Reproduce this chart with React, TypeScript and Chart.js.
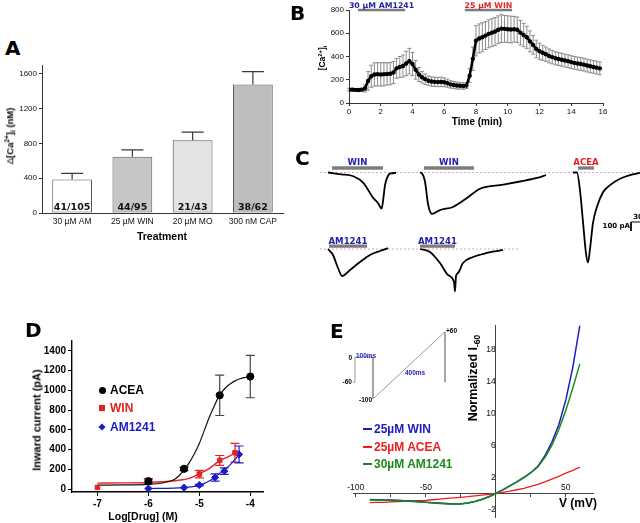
import React, { useEffect, useRef } from "react";
import { Chart, registerables } from "chart.js";

Chart.register(...registerables);

const SANS = "'Liberation Sans', Arial, Helvetica, sans-serif";
const VERD = "'DejaVu Sans', Verdana, sans-serif";

/* ---------------- Panel A ---------------- */
const A_CATEGORIES = ["30 µM AM", "25 µM WIN", "20 µM MO", "300 nM CAP"];
const A_VALUES = [385, 645, 835, 1475];
const A_ERRORS = [70, 80, 95, 150];
const A_COUNTS = ["41/105", "44/95", "21/43", "38/62"];
const A_Y_TICKS = [0, 400, 800, 1200, 1600];

/* ---------------- Panel B ---------------- */
const B_TIME = [0, 0.2, 0.4, 0.6, 0.8, 1.0, 1.2, 1.4, 1.6, 1.8, 2.0, 2.2, 2.4, 2.6, 2.8, 3.0, 3.2, 3.4, 3.6, 3.8,
  4.0, 4.2, 4.4, 4.6, 4.8, 5.0, 5.2, 5.4, 5.6, 5.8, 6.0, 6.2, 6.4, 6.6, 6.8, 7.0, 7.2, 7.4, 7.6, 7.8,
  8.0, 8.2, 8.4, 8.6, 8.8, 9.0, 9.2, 9.4, 9.6, 9.8, 10.0, 10.2, 10.4, 10.6, 10.8, 11.0, 11.2, 11.4, 11.6, 11.8,
  12.0, 12.2, 12.4, 12.6, 12.8, 13.0, 13.2, 13.4, 13.6, 13.8, 14.0, 14.2, 14.4, 14.6, 14.8, 15.0, 15.2, 15.4, 15.6, 15.8];
const B_MEAN = [115, 115, 113, 112, 115, 125, 190, 230, 245, 248, 245, 248, 250, 252, 262, 298, 310, 318, 340, 360,
  335, 285, 245, 222, 205, 192, 185, 182, 180, 182, 178, 170, 160, 155, 150, 148, 146, 150, 235, 380,
  535, 555, 565, 580, 595, 605, 615, 630, 640, 638, 635, 632, 635, 630, 605, 585, 565, 530, 500, 465,
  445, 432, 420, 405, 395, 385, 378, 372, 365, 360, 352, 345, 340, 336, 330, 322, 316, 310, 304, 298];
const B_SEM = [12, 12, 12, 12, 12, 30, 80, 95, 100, 100, 100, 100, 95, 95, 95, 85, 90, 95, 105, 110,
  100, 80, 60, 50, 45, 40, 40, 40, 40, 40, 38, 35, 32, 30, 30, 28, 28, 25, 60, 100,
  130, 125, 125, 120, 120, 120, 120, 120, 120, 115, 115, 115, 110, 110, 105, 100, 95, 90, 80, 75,
  70, 65, 62, 60, 58, 56, 55, 55, 55, 55, 55, 55, 55, 55, 55, 55, 55, 55, 55, 55];
const B_X_TICKS = [0, 2, 4, 6, 8, 10, 12, 14, 16];
const B_Y_TICKS = [0, 200, 400, 600, 800];
const B_DRUG_TEXT = ["30 µM AM1241", "25 µM WIN"];
const B_DRUG_START = [0.57, 7.3];
const B_DRUG_END = [3.53, 10.27];

/* ---------------- Panel C (traces: time in s from trace onset, current in pA) ---------------- */
const C_T1_TIME = [0, 40, 76, 106, 136, 150, 161, 166, 171, 181, 188, 204];
const C_T1_PA = [0, -20, -42, -115, -285, -340, -400, -290, -140, -30, -10, -5];
const C_T2_TIME = [0, 6, 15, 24, 36, 60, 99, 141, 180, 250, 300, 351, 378];
const C_T2_PA = [0, -10, -100, -350, -460, -417, -383, -283, -180, -135, -100, -61, -28];
const C_T3_TIME = [0, 12, 21, 30, 39, 45, 51, 60, 72, 90, 111, 141, 171, 201];
const C_T3_PA = [0, 0, -200, -550, -900, -1000, -850, -560, -380, -220, -140, -70, -30, -5];
const C_T4_TIME = [0, 15, 30, 42, 66, 96, 126, 156, 180];
const C_T4_PA = [0, -67, -211, -300, -233, -144, -67, -22, 10];
const C_T5_TIME = [0, 30, 60, 84, 102, 105, 108, 114, 129, 159, 201, 249];
const C_T5_PA = [0, -33, -156, -289, -367, -470, -300, -267, -156, -89, -44, -11];
const C_DRUG_TEXT = ["WIN", "WIN", "ACEA", "AM1241", "AM1241"];
const C_DRUG_ON = [12, 12, 15, 3, 0];
const C_DRUG_OFF = [165, 162, 63, 117, 105];

/* ---------------- Panel D ---------------- */
const D_X_ACEA = [-6, -5.3, -4.6, -4.0];
const D_ACEA = [80, 205, 950, 1140];
const D_ERR_ACEA = [25, 18, 205, 215];
const D_X_WIN = [-7, -6, -5, -4.6, -4.3];
const D_WIN = [17, 81, 152, 290, 368];
const D_ERR_WIN = [0, 22, 38, 50, 95];
const D_X_AM = [-6, -5.3, -5, -4.69, -4.51, -4.22];
const D_AM = [5, 14, 40, 117, 182, 351];
const D_ERR_AM = [0, 0, 8, 37, 33, 85];
const D_FIT_X_ACEA = [-7, -6.5, -6, -5.7, -5.5, -5.4, -5.3, -5.2, -5.1, -5.0, -4.9, -4.8, -4.7, -4.6, -4.5, -4.4, -4.3, -4.2, -4.1, -4.0];
const D_FIT_ACEA = [40, 42, 47, 64, 95, 135, 195, 265, 355, 462, 597, 732, 850, 951, 1019, 1063, 1096, 1117, 1130, 1140];
const D_FIT_X_WIN = [-7, -6.5, -6, -5.5, -5.2, -5.0, -4.8, -4.6, -4.4, -4.3];
const D_FIT_WIN = [60, 62, 67, 84, 108, 155, 210, 287, 337, 368];
const D_FIT_X_AM = [-6, -5.5, -5.3, -5.0, -4.9, -4.8, -4.7, -4.6, -4.5, -4.4, -4.3, -4.22];
const D_FIT_AM = [5, 9, 16, 37, 57, 84, 118, 159, 199, 243, 300, 351];
const D_X_TICKS = [-7, -6, -5, -4];
const D_Y_TICKS = [0, 200, 400, 600, 800, 1000, 1200, 1400];

/* ---------------- Panel E ---------------- */
const E_V = [-90, -85, -80, -75, -70, -65, -60, -55, -50, -45, -40, -35, -30, -25, -20, -15, -10, -5, 0, 5, 10, 15, 20, 25, 30, 35, 40, 45, 50, 55, 60];
const E_WIN = [-0.75, -0.78, -0.8, -0.82, -0.85, -0.9, -0.95, -1.0, -1.1, -1.15, -1.2, -1.25, -1.3, -1.28, -1.2, -1.0, -0.75, -0.4, 0, 0.45, 0.95, 1.45, 2.0, 2.6, 3.4, 4.7, 6.4, 8.6, 11.7, 15.8, 21.0];
const E_ACEA = [-1.15, -1.12, -1.1, -1.05, -1.0, -0.97, -0.95, -0.9, -0.85, -0.78, -0.7, -0.62, -0.55, -0.48, -0.4, -0.3, -0.2, -0.1, 0, 0.15, 0.3, 0.47, 0.65, 0.9, 1.15, 1.45, 1.8, 2.15, 2.55, 2.9, 3.3];
const E_AM1241 = [-0.8, -0.82, -0.85, -0.88, -0.9, -0.95, -1.0, -1.05, -1.1, -1.18, -1.25, -1.3, -1.32, -1.3, -1.2, -1.0, -0.75, -0.4, 0, 0.45, 0.95, 1.45, 2.0, 2.6, 3.3, 4.5, 6.0, 8.0, 10.4, 13.2, 16.2];
const E_X_TICKS = [-100, -75, -50, -25, 0, 25, 50];
const E_X_LABELS = [-100, -50, 50];
const E_Y_TICKS = [-2, 2, 6, 10, 14, 18];
const E_PROTO_TIME = [-11, 0, 0, 100, 100, 500, 500];
const E_PROTO_MV = [-60, -60, 0, 0, -100, 60, -60];

/* ---------------- colours ---------------- */
const BLUE = "#2323a8";
const RED = "#e42222";
const GREEN = "#1b8a1b";
const A_COLORS = ["#ffffff", "#c6c6c6", "#e3e3e3", "#bdbdbd"];

/* ---------------- helpers ---------------- */
const zip = (xs: number[], ys: number[]) => xs.map((x, i) => ({ x, y: ys[i] }));
const zero = (s: any) => { s.paddingLeft = 0; s.paddingRight = 0; s.paddingTop = 0; s.paddingBottom = 0; };
const fixW = (w: number) => (s: any) => { s.width = w; zero(s); };
const fixH = (h: number) => (s: any) => { s.height = h; zero(s); };
const setTicks = (vals: number[]) => (s: any) => { s.ticks = vals.map((v) => ({ value: v })); };

function drawErrors(chart: any, phase: string) {
  const ctx = chart.ctx;
  chart.data.datasets.forEach((ds: any, i: number) => {
    if (!ds.errors || (ds.errPhase || "before") !== phase) return;
    const meta = chart.getDatasetMeta(i);
    const ys = chart.scales[meta.yAxisID];
    ctx.save();
    ctx.strokeStyle = ds.errColor;
    ctx.lineWidth = ds.errWidth || 1;
    meta.data.forEach((el: any, j: number) => {
      const e = ds.errors[j];
      if (!e) return;
      const raw = ds.data[j];
      const v = typeof raw === "number" ? raw : raw.y;
      const x = el.x;
      const top = ys.getPixelForValue(v + e);
      const bot = ds.errUpOnly ? el.y : ys.getPixelForValue(v - e);
      const c = (ds.errCap || 6) / 2;
      ctx.beginPath();
      ctx.moveTo(x, bot);
      ctx.lineTo(x, top);
      ctx.moveTo(x - c, top);
      ctx.lineTo(x + c, top);
      if (!ds.errUpOnly) {
        ctx.moveTo(x - c, bot);
        ctx.lineTo(x + c, bot);
      }
      ctx.stroke();
    });
    ctx.restore();
  });
}

const errorBarPlugin = {
  id: "errorBars",
  beforeDatasetsDraw(chart: any) { drawErrors(chart, "before"); },
  afterDatasetsDraw(chart: any) { drawErrors(chart, "after"); },
};

const drugLabelPlugin = {
  id: "drugLabels",
  afterDatasetsDraw(chart: any) {
    const ctx = chart.ctx;
    chart.data.datasets.forEach((ds: any, i: number) => {
      if (!ds.drugText) return;
      const meta = chart.getDatasetMeta(i);
      const p0 = meta.data[0];
      const p1 = meta.data[meta.data.length - 1];
      ctx.save();
      ctx.font = ds.drugFont;
      ctx.fillStyle = ds.drugColor;
      ctx.textAlign = "center";
      ctx.textBaseline = "alphabetic";
      ctx.fillText(ds.drugText, (p0.x + p1.x) / 2, p0.y - ds.drugGap);
      ctx.restore();
    });
  },
};

const baseOptions = (padding: any) => ({
  animation: false,
  responsive: false,
  events: [],
  layout: { padding },
  plugins: { legend: { display: false }, tooltip: { enabled: false } },
});

/* ---------------- chart configs ---------------- */
const makeA = () => ({
  type: "bar",
  data: {
    labels: A_CATEGORIES,
    datasets: [{
      data: A_VALUES,
      backgroundColor: A_COLORS,
      borderColor: "#5a5a5a",
      borderWidth: 1,
      borderSkipped: false,
      barPercentage: 0.66,
      categoryPercentage: 1,
      errors: A_ERRORS,
      errUpOnly: true,
      errPhase: "after",
      errColor: "#3a3a3a",
      errWidth: 1.2,
      errCap: 22,
    }],
  },
  options: {
    ...baseOptions({ left: 0, right: 17, top: 5, bottom: 0 }),
    scales: {
      x: {
        grid: { display: false, drawTicks: false, tickLength: 0 },
        border: { color: "#333", width: 1 },
        ticks: { color: "#111", padding: 4, font: { family: SANS, size: 8.5 } },
        afterFit: fixH(47),
      },
      y: {
        min: 0, max: 1700,
        afterBuildTicks: setTicks(A_Y_TICKS),
        grid: { display: true, drawOnChartArea: false, tickLength: 3, color: "#333" },
        border: { color: "#333", width: 1 },
        ticks: { color: "#111", padding: 2, font: { family: SANS, size: 8 }, callback: (v: any) => String(v) },
        afterFit: fixW(42),
      },
    },
  },
  plugins: [errorBarPlugin, {
    id: "counts",
    afterDatasetsDraw(chart: any) {
      const ctx = chart.ctx;
      const meta = chart.getDatasetMeta(0);
      const y0 = chart.scales.y.getPixelForValue(0);
      ctx.save();
      ctx.font = `bold 9.5px ${VERD}`;
      ctx.fillStyle = "#111";
      ctx.textAlign = "center";
      meta.data.forEach((el: any, j: number) => ctx.fillText(A_COUNTS[j], el.x, y0 - 3));
      ctx.restore();
    },
  }],
});

const makeB = () => ({
  type: "line",
  data: {
    datasets: [
      {
        data: zip(B_TIME, B_MEAN),
        borderColor: "#000", backgroundColor: "#000", borderWidth: 2.5,
        pointRadius: 2.2, pointBorderWidth: 0,
        errors: B_SEM, errColor: "#8c8c8c", errWidth: 1, errCap: 4,
      },
      ...B_DRUG_TEXT.map((t, i) => ({
        data: [{ x: B_DRUG_START[i], y: 800 }, { x: B_DRUG_END[i], y: 800 }],
        borderColor: "#7a7a7a", borderWidth: 2.5, pointRadius: 0, clip: false,
        drugText: t, drugColor: i === 0 ? BLUE : RED, drugFont: `bold 7.8px ${VERD}`, drugGap: 2.5,
      })),
    ],
  },
  options: {
    ...baseOptions({ left: 0, right: 37, top: 10, bottom: 0 }),
    scales: {
      x: {
        type: "linear", min: 0, max: 16,
        afterBuildTicks: setTicks(B_X_TICKS),
        grid: { display: true, drawOnChartArea: false, tickLength: 3, color: "#333" },
        border: { color: "#333", width: 1 },
        ticks: { color: "#111", padding: 1, font: { family: SANS, size: 8 } },
        afterFit: fixH(37),
      },
      y: {
        min: 0, max: 800,
        afterBuildTicks: setTicks(B_Y_TICKS),
        grid: { display: true, drawOnChartArea: false, tickLength: 3, color: "#333" },
        border: { color: "#333", width: 1 },
        ticks: { color: "#111", padding: 2, font: { family: SANS, size: 8 } },
        afterFit: fixW(49),
      },
    },
  },
  plugins: [errorBarPlugin, drugLabelPlugin],
});

// layout of the trace panel (seconds / pA of the shared canvas)
const C_TRACE_START = [24, 300, 759, 24, 300];
const C_ROW_BASE = [0, 0, 0, -850, -850];
const C_BAR_LIFT = [50, 50, 50, 33, 33];

const makeC = () => {
  const traces = [
    [C_T1_TIME, C_T1_PA], [C_T2_TIME, C_T2_PA], [C_T3_TIME, C_T3_PA], [C_T4_TIME, C_T4_PA], [C_T5_TIME, C_T5_PA],
  ].map(([ts, vs], k) => ({
    data: ts.map((t, i) => ({ x: C_TRACE_START[k] + t, y: C_ROW_BASE[k] + vs[i] })),
    borderColor: "#000", borderWidth: 1.8, pointRadius: 0, cubicInterpolationMode: "monotone",
  }));
  const bars = C_DRUG_TEXT.map((t, k) => ({
    data: [
      { x: C_TRACE_START[k] + C_DRUG_ON[k], y: C_ROW_BASE[k] + C_BAR_LIFT[k] },
      { x: C_TRACE_START[k] + C_DRUG_OFF[k], y: C_ROW_BASE[k] + C_BAR_LIFT[k] },
    ],
    borderColor: "#7d7d7d", borderWidth: 3.3, pointRadius: 0,
    drugText: t, drugColor: t === "ACEA" ? RED : BLUE, drugFont: `bold 8.6px ${VERD}`, drugGap: 2.5,
  }));
  const scaleBar = {
    data: [{ x: 963, y: -550 }, { x: 933, y: -550 }, { x: 933, y: -650 }],
    borderColor: "#000", borderWidth: 1, pointRadius: 0, clip: false,
  };
  const baselines = [
    { data: [{ x: 0, y: 0 }, { x: 960, y: 0 }] },
    { data: [{ x: 0, y: -850 }, { x: 600, y: -850 }] },
  ].map((d) => ({ ...d, borderColor: "#d7a6cf", borderWidth: 1, borderDash: [2, 2], pointRadius: 0 }));
  return {
    type: "line",
    data: { datasets: [...traces, scaleBar, ...bars, ...baselines] },
    options: {
      ...baseOptions(0),
      scales: {
        x: { type: "linear", min: 0, max: 960, display: false },
        y: { min: -1416.7, max: 250, display: false },
      },
    },
    plugins: [drugLabelPlugin],
  };
};

const makeD = () => ({
  type: "line",
  data: {
    datasets: [
      {
        data: zip(D_X_ACEA, D_ACEA), showLine: false, pointStyle: "circle", pointRadius: 3.6,
        backgroundColor: "#000", borderColor: "#000",
        errors: D_ERR_ACEA, errColor: "#444", errWidth: 1.2, errCap: 9,
      },
      {
        data: zip(D_X_WIN, D_WIN), showLine: false, pointStyle: "rect", pointRadius: 3.2,
        backgroundColor: RED, borderColor: RED,
        errors: D_ERR_WIN, errColor: RED, errWidth: 1.2, errCap: 9,
      },
      {
        data: zip(D_X_AM, D_AM), showLine: false, pointStyle: "rectRot", pointRadius: 3.6,
        backgroundColor: "#1c1cc8", borderColor: "#1c1cc8",
        errors: D_ERR_AM, errColor: "#1c1cc8", errWidth: 1.2, errCap: 9,
      },
      { data: zip(D_FIT_X_ACEA, D_FIT_ACEA), borderColor: "#111", borderWidth: 1.2, pointRadius: 0, cubicInterpolationMode: "monotone" },
      { data: zip(D_FIT_X_WIN, D_FIT_WIN), borderColor: RED, borderWidth: 1.4, pointRadius: 0, cubicInterpolationMode: "monotone" },
      { data: zip(D_FIT_X_AM, D_FIT_AM), borderColor: "#1c1cc8", borderWidth: 1.2, pointRadius: 0, cubicInterpolationMode: "monotone" },
    ],
  },
  options: {
    ...baseOptions({ left: 0, right: 37, top: 41, bottom: 0 }),
    scales: {
      x: {
        type: "linear", min: -7.5, max: -3.75,
        afterBuildTicks: setTicks(D_X_TICKS),
        grid: { display: true, drawOnChartArea: false, tickLength: 4, color: "#000" },
        border: { color: "#000", width: 1.4 },
        ticks: { color: "#000", padding: 2, font: { family: SANS, size: 10, weight: "bold" } },
        afterFit: fixH(31),
      },
      y: {
        min: -30, max: 1500,
        afterBuildTicks: setTicks(D_Y_TICKS),
        grid: { display: true, drawOnChartArea: false, tickLength: 4, color: "#000" },
        border: { color: "#000", width: 1.4 },
        ticks: { color: "#000", padding: 2, font: { family: SANS, size: 10, weight: "bold" }, callback: (v: any) => String(v) },
        afterFit: fixW(72),
      },
    },
  },
  plugins: [errorBarPlugin],
});

const makeE = () => ({
  type: "line",
  data: {
    datasets: [
      { data: zip(E_V, E_AM1241), borderColor: GREEN, borderWidth: 1.5, pointRadius: 0 },
      { data: zip(E_V, E_WIN), borderColor: "#1c1cc0", borderWidth: 1.5, pointRadius: 0 },
      { data: zip(E_V, E_ACEA), borderColor: "#f01c1c", borderWidth: 1.3, pointRadius: 0 },
    ],
  },
  options: {
    ...baseOptions({ left: 23, right: 47, top: 15.5, bottom: 5.5 }),
    scales: {
      x: {
        type: "linear", position: { y: 0 }, min: -102, max: 69.4,
        afterBuildTicks: setTicks(E_X_TICKS),
        grid: { display: true, drawOnChartArea: false, tickLength: 3, color: "#444" },
        border: { color: "#444", width: 1 },
        ticks: {
          color: "#111", padding: -14, autoSkip: false, maxRotation: 0,
          font: { family: SANS, size: 8.5 },
          callback: (v: any) => (E_X_LABELS.includes(v) ? String(v) : ""),
        },
        afterFit: zero,
      },
      y: {
        type: "linear", position: { x: 0 }, min: -3, max: 21,
        afterBuildTicks: setTicks(E_Y_TICKS),
        grid: { display: false },
        border: { color: "#444", width: 1 },
        ticks: { color: "#111", font: { family: SANS, size: 8.5 } },
        afterFit: zero,
      },
    },
  },
});

const makeInset = () => ({
  type: "line",
  data: { datasets: [{ data: zip(E_PROTO_TIME, E_PROTO_MV), borderColor: "#9a9a9a", borderWidth: 1, pointRadius: 0 }] },
  options: {
    ...baseOptions(0),
    scales: {
      x: { type: "linear", min: -55.6, max: 555.6, display: false },
      y: { min: -126.2, max: 76.2, display: false },
    },
  },
});

/* ---------------- components ---------------- */
function ChartBox(props: any) {
  const ref = useRef<HTMLCanvasElement | null>(null);
  useEffect(() => {
    const chart = new Chart(ref.current as any, props.make());
    return () => chart.destroy();
  }, []);
  return (
    <canvas
      ref={ref}
      width={props.width}
      height={props.height}
      style={{ position: "absolute", left: props.left, top: props.top, width: props.width, height: props.height }}
    />
  );
}

function Txt(p: any) {
  const { x, y, size = 10, weight = 700, color = "#000", family = SANS, align = "left", rotate = false, children } = p;
  const tx = rotate || align === "center" ? "-50%" : align === "right" ? "-100%" : "0";
  return (
    <div
      style={{
        position: "absolute", left: x, top: y,
        transform: `translate(${tx}, -50%)${rotate ? " rotate(-90deg)" : ""}`,
        fontFamily: family, fontSize: size, fontWeight: weight, color,
        whiteSpace: "nowrap", lineHeight: 1,
      }}
    >
      {children}
    </div>
  );
}

const supS = { fontSize: "0.68em", verticalAlign: "0", position: "relative" as const, top: "-0.55em" };
const subS = { fontSize: "0.68em", verticalAlign: "0", position: "relative" as const, top: "0.3em" };

function Marker(p: any) {
  const { x, y, shape, color } = p;
  const s = shape === "circle" ? 7 : 6;
  return (
    <div
      style={{
        position: "absolute", left: x - s / 2, top: y - s / 2, width: s, height: s, background: color,
        borderRadius: shape === "circle" ? "50%" : 0,
        transform: shape === "diamond" ? "rotate(45deg) scale(0.85)" : undefined,
      }}
    />
  );
}

function LegendLine(p: any) {
  return <div style={{ position: "absolute", left: p.x, top: p.y - 0.75, width: 9, height: 1.5, background: p.color }} />;
}

export default function App() {
  return (
    <div style={{ position: "absolute", left: 0, top: 0, width: 640, height: 523, background: "#fff", overflow: "hidden" }}>
      <ChartBox left={0} top={60} width={300} height={200} make={makeA} />
      <ChartBox left={300} top={0} width={340} height={140} make={makeB} />
      <ChartBox left={320} top={150} width={320} height={150} make={makeC} />
      <ChartBox left={0} top={300} width={300} height={223} make={makeD} />
      <ChartBox left={330} top={310} width={310} height={213} make={makeE} />
      <ChartBox left={345} top={325} width={110} height={85} make={makeInset} />

      {/* panel letters */}
      <Txt x={5} y={47.5} size={20} family={VERD}>A</Txt>
      <Txt x={290} y={12.5} size={20} family={VERD}>B</Txt>
      <Txt x={295} y={158} size={20} family={VERD}>C</Txt>
      <Txt x={25} y={330} size={20} family={VERD}>D</Txt>
      <Txt x={330} y={331} size={20} family={VERD}>E</Txt>

      {/* A titles */}
      <Txt x={10} y={136} size={9.5} rotate>
        <span style={{ fontWeight: 400 }}>Δ</span>[Ca<span style={supS}>2+</span>]<span style={subS}>i</span> (nM)
      </Txt>
      <Txt x={162} y={236} size={10.5} align="center">Treatment</Txt>

      {/* B titles */}
      <Txt x={477} y={122} size={10} align="center">Time (min)</Txt>
      <Txt x={322} y={58} size={8.5} rotate>
        [Ca<span style={supS}>2+</span>]<span style={subS}>i</span>
      </Txt>

      {/* C scale bar labels */}
      <Txt x={630} y={226} size={7} family={VERD} align="right">100 pA</Txt>
      <Txt x={638} y={217} size={7} family={VERD} align="center">30</Txt>

      {/* D titles & legend */}
      <Txt x={37} y={420} size={11} rotate>Inward current (pA)</Txt>
      <Txt x={143} y={516} size={10.5} align="center">Log[Drug] (M)</Txt>
      <Marker x={102} y={390} shape="circle" color="#000" />
      <Txt x={110} y={390} size={12}>ACEA</Txt>
      <Marker x={102} y={408} shape="square" color={RED} />
      <Txt x={110} y={408} size={12} color={RED}>WIN</Txt>
      <Marker x={102} y={427} shape="diamond" color="#1c1cc8" />
      <Txt x={110} y={427} size={12} color="#1c1cc8">AM1241</Txt>

      {/* E titles & legend */}
      <Txt x={473} y={378} size={12.5} rotate>
        Normalized I<span style={subS}>-60</span>
      </Txt>
      <Txt x={578} y={503} size={12} align="center">V (mV)</Txt>
      <LegendLine x={363} y={429} color="#1c1cc0" />
      <Txt x={374} y={429} size={12} color="#1c1cc0">25µM WIN</Txt>
      <LegendLine x={363} y={447} color="#f01c1c" />
      <Txt x={374} y={447} size={12} color="#f01c1c">25µM ACEA</Txt>
      <LegendLine x={363} y={464} color={GREEN} />
      <Txt x={374} y={464} size={12} color={GREEN}>30µM AM1241</Txt>

      {/* E inset labels */}
      <Txt x={352} y={358} size={6.5} align="right">0</Txt>
      <Txt x={356} y={355.5} size={6.5} color="#2323c0">100ms</Txt>
      <Txt x={352} y={382} size={6.5} align="right">-60</Txt>
      <Txt x={372} y={399.5} size={6.5} align="right">-100</Txt>
      <Txt x={446} y={331} size={6.5}>+60</Txt>
      <Txt x={405} y={373} size={6.5} color="#2323c0">400ms</Txt>
    </div>
  );
}
